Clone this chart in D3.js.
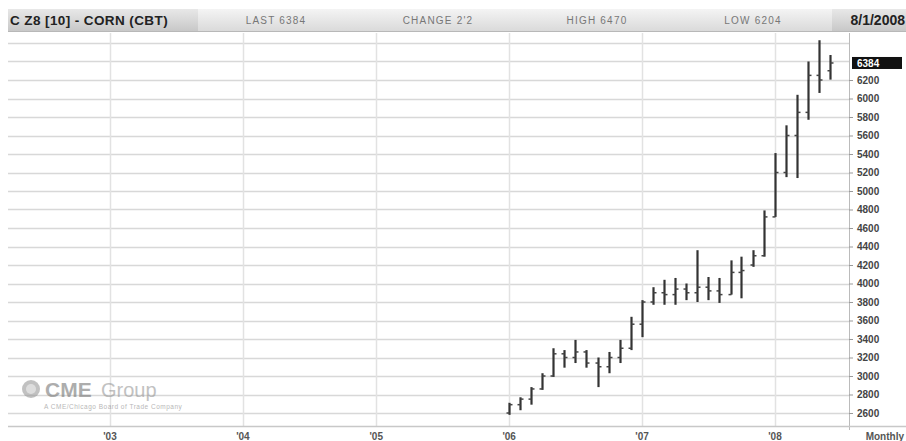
<!DOCTYPE html>
<html>
<head>
<meta charset="utf-8">
<script src="https://cdn.jsdelivr.net/npm/d3@7"></script>
<style>
  html, body { margin: 0; padding: 0; background: #fff; }
  svg { display: block; font-family: "Liberation Sans", Arial, sans-serif; }
</style>
</head>
<body>
<div id="chart"></div>
<script>
// monthly OHLC bars, prices in 1/10 cent style as shown on the CME chart
const months = ["2006-01","2006-02","2006-03","2006-04","2006-05","2006-06","2006-07","2006-08","2006-09","2006-10","2006-11","2006-12",
  "2007-01","2007-02","2007-03","2007-04","2007-05","2007-06","2007-07","2007-08","2007-09","2007-10","2007-11","2007-12",
  "2008-01","2008-02","2008-03","2008-04","2008-05","2008-06"];
const opens  = [2600,2690,2750,2860,3000,3240,3200,3260,3140,3100,3200,3300,3560,3800,3900,3880,3940,3900,3960,3920,3880,4120,4200,4300,4720,5200,5600,5850,6250,6300];
const highs  = [2710,2770,2880,3030,3300,3280,3390,3280,3200,3260,3390,3640,3820,3960,4040,4060,4000,4360,4070,4060,4250,4290,4360,4790,5410,5710,6040,6400,6630,6470];
const lows   = [2580,2630,2690,2850,2990,3090,3140,3090,2880,3030,3140,3280,3420,3770,3770,3770,3820,3800,3820,3790,3880,3840,4180,4290,4720,5150,5140,5770,6060,6204];
const closes = [2690,2750,2860,3000,3240,3200,3260,3140,3100,3200,3300,3560,3800,3900,3880,3940,3900,3960,3920,3880,4120,4140,4300,4720,5200,5600,5850,6250,6200,6384];

const yearTicks = ["2003","2004","2005","2006","2007","2008"];
const yearLabels = ["'03","'04","'05","'06","'07","'08"];
const priceTicks = [2600,2800,3000,3200,3400,3600,3800,4000,4200,4400,4600,4800,5000,5200,5400,5600,5800,6000,6200];
const gridTicks = [2600,2800,3000,3200,3400,3600,3800,4000,4200,4400,4600,4800,5000,5200,5400,5600,5800,6000,6200,6400,6600,6800];

const headerItems = ["LAST 6384", "CHANGE 2'2", "HIGH 6470", "LOW 6204"];
const titleText = "C Z8 [10] - CORN (CBT)";
const dateText = "8/1/2008";
const lastPrice = 6384;

const W = 906, H = 441;
const plot = { left: 8, right: 849, top: 33, bottom: 426 };

const svg = d3.select("#chart").append("svg").attr("width", W).attr("height", H);

const parse = d3.timeParse("%Y-%m");
const parseY = d3.timeParse("%Y");

const x = d3.scaleTime()
  .domain([parseY("2003"), parseY("2008")])
  .range([110, 775]);

const y = d3.scaleLinear()
  .domain([2600, 6200])
  .range([413, 80]);

// header bar
const defs = svg.append("defs");
const grad = defs.append("linearGradient").attr("id", "hdr").attr("x1", 0).attr("y1", 0).attr("x2", 0).attr("y2", 1);
grad.append("stop").attr("offset", "0%").attr("stop-color", "#f4f4f4");
grad.append("stop").attr("offset", "100%").attr("stop-color", "#dadada");
const grad2 = defs.append("linearGradient").attr("id", "hdr2").attr("x1", 0).attr("y1", 0).attr("x2", 0).attr("y2", 1);
grad2.append("stop").attr("offset", "0%").attr("stop-color", "#e8e8e8");
grad2.append("stop").attr("offset", "100%").attr("stop-color", "#c8c8c8");

svg.append("rect").attr("x", 8).attr("y", 9).attr("width", W - 8).attr("height", 22).attr("fill", "url(#hdr)");
svg.append("rect").attr("x", 8).attr("y", 9).attr("width", 190).attr("height", 22).attr("fill", "url(#hdr2)");
svg.append("rect").attr("x", 832).attr("y", 9).attr("width", W - 832).attr("height", 22).attr("fill", "url(#hdr2)");
svg.append("line").attr("x1", 8).attr("x2", W).attr("y1", 31.5).attr("y2", 31.5).attr("stroke", "#b8b8b8");

svg.append("text")
  .attr("x", 10).attr("y", 25)
  .attr("font-size", 13.5).attr("font-weight", "bold")
  .attr("letter-spacing", 0.4)
  .attr("fill", "#222")
  .text(titleText);

const headerX = [276, 438, 597, 753];
svg.selectAll("text.hdr")
  .data(headerItems)
  .join("text")
  .attr("class", "hdr")
  .attr("x", (d, i) => headerX[i]).attr("y", 24)
  .attr("text-anchor", "middle")
  .attr("font-size", 10)
  .attr("letter-spacing", 1.2)
  .attr("fill", "#777")
  .text(d => d);

svg.append("text")
  .attr("x", 905).attr("y", 25)
  .attr("text-anchor", "end")
  .attr("font-size", 14).attr("font-weight", "bold")
  .attr("fill", "#222")
  .text(dateText);

// grid
const g = svg.append("g");
g.selectAll("line.hgrid")
  .data(gridTicks.filter(d => y(d) > plot.top))
  .join("line")
  .attr("class", "hgrid")
  .attr("x1", plot.left).attr("x2", plot.right)
  .attr("y1", d => Math.round(y(d)) + 0.5).attr("y2", d => Math.round(y(d)) + 0.5)
  .attr("stroke", "#d8d8d8").attr("stroke-width", 1.5);

g.selectAll("line.vgrid")
  .data(yearTicks)
  .join("line")
  .attr("class", "vgrid")
  .attr("x1", d => Math.round(x(parseY(d))) + 0.5).attr("x2", d => Math.round(x(parseY(d))) + 0.5)
  .attr("y1", plot.top).attr("y2", plot.bottom)
  .attr("stroke", "#e2e2e2").attr("stroke-width", 1.5);

// plot frame
svg.append("line").attr("x1", plot.right + 0.5).attr("x2", plot.right + 0.5)
  .attr("y1", plot.top).attr("y2", plot.bottom + 4).attr("stroke", "#bbb");
svg.append("line").attr("x1", plot.left).attr("x2", W)
  .attr("y1", plot.bottom + 0.5).attr("y2", plot.bottom + 0.5).attr("stroke", "#c8c8c8").attr("stroke-width", 1.5);

// CME Group logo (watermark)
const logo = svg.append("g").attr("opacity", 0.6);
logo.append("circle").attr("cx", 31).attr("cy", 389).attr("r", 9).attr("fill", "#999");
logo.append("circle").attr("cx", 31).attr("cy", 389).attr("r", 5).attr("fill", "#c8c8c8");
logo.append("text").attr("x", 45).attr("y", 397).attr("font-size", 21).attr("font-weight", "bold")
  .attr("fill", "#777").text("CME");
logo.append("text").attr("x", 101).attr("y", 397).attr("font-size", 20)
  .attr("fill", "#999").text("Group");
logo.append("text").attr("x", 44).attr("y", 409).attr("font-size", 6.5).attr("letter-spacing", 0.5)
  .attr("fill", "#888").text("A CME/Chicago Board of Trade Company");

// OHLC bars
const bars = svg.append("g");
const bx = d => Math.round(x(parse(d))) + 0.5;
months.forEach((m, i) => {
  const cx = bx(m);
  bars.append("line").attr("x1", cx).attr("x2", cx)
    .attr("y1", y(highs[i])).attr("y2", y(lows[i]))
    .attr("stroke", "#333").attr("stroke-width", 2.2);
  bars.append("line").attr("x1", cx - 3).attr("x2", cx)
    .attr("y1", y(opens[i])).attr("y2", y(opens[i]))
    .attr("stroke", "#444").attr("stroke-width", 1.5);
  bars.append("line").attr("x1", cx).attr("x2", cx + 3)
    .attr("y1", y(closes[i])).attr("y2", y(closes[i]))
    .attr("stroke", "#444").attr("stroke-width", 1.5);
});

// right price axis
svg.append("g")
  .attr("transform", `translate(${plot.right},0)`)
  .call(d3.axisRight(y).tickValues(priceTicks).tickSize(4).tickPadding(4).tickFormat(d3.format("d")))
  .call(a => a.select(".domain").remove())
  .call(a => a.selectAll(".tick line").attr("stroke", "#999"))
  .call(a => a.selectAll(".tick text")
    .attr("font-size", 10).attr("font-weight", "bold").attr("fill", "#444")
    .style("font-family", "'Liberation Sans Narrow', 'Liberation Sans', Arial, sans-serif"));

// last price marker
svg.append("rect").attr("x", plot.right + 3).attr("y", y(lastPrice) - 6)
  .attr("width", 50).attr("height", 12).attr("fill", "#111");
svg.append("text").attr("x", plot.right + 8).attr("y", y(lastPrice) + 4)
  .attr("font-size", 10).attr("font-weight", "bold").attr("fill", "#fff")
  .style("font-family", "'Liberation Sans Narrow', 'Liberation Sans', Arial, sans-serif")
  .text(lastPrice);

// x labels
svg.selectAll("text.xl")
  .data(yearTicks)
  .join("text")
  .attr("class", "xl")
  .attr("x", d => x(parseY(d))).attr("y", 440)
  .attr("text-anchor", "middle")
  .attr("font-size", 10).attr("font-weight", "bold").attr("fill", "#555")
  .text((d, i) => yearLabels[i]);

svg.append("text").attr("x", 904).attr("y", 440).attr("text-anchor", "end")
  .attr("font-size", 10).attr("font-weight", "bold").attr("fill", "#555")
  .text("Monthly");
</script>
</body>
</html>
